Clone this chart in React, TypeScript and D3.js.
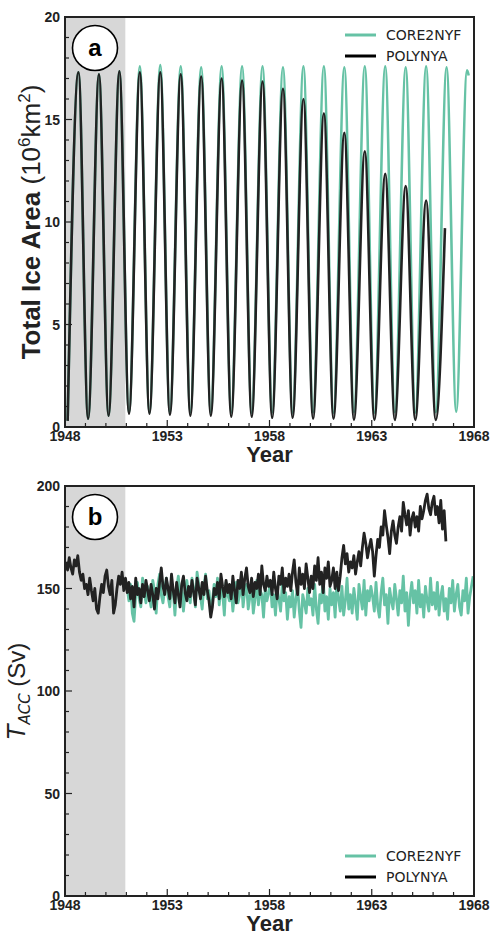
import React from "react";
import * as d3 from "d3";

// ---------- Panel a: total sea-ice area (10^6 km^2), seasonal extrema ----------
const iceYears = [1948, 1949, 1950, 1951, 1952, 1953, 1954, 1955, 1956, 1957, 1958, 1959, 1960, 1961, 1962, 1963, 1964, 1965, 1966, 1967];
const PEAK_PHASE = 0.66; // September maximum
const TROUGH_PHASE = 0.13; // February minimum
const corePeaks = [17.3, 17.2, 17.35, 17.6, 17.65, 17.6, 17.55, 17.6, 17.6, 17.6, 17.55, 17.6, 17.6, 17.55, 17.6, 17.6, 17.55, 17.6, 17.55, 17.4];
const coreTroughs = [0.3, 0.4, 0.55, 0.7, 0.7, 0.7, 0.72, 0.7, 0.72, 0.7, 0.72, 0.7, 0.72, 0.7, 0.72, 0.7, 0.72, 0.7, 0.72, 0.75];
const coreEnd = { t: 1967.74, v: 17.15 };
const polyPeaks = [17.3, 17.2, 17.35, 17.3, 17.3, 17.2, 17.1, 17.0, 16.9, 16.85, 16.5, 16.0, 15.3, 14.35, 13.45, 12.35, 11.75, 11.05];
const polyTroughs = [0.3, 0.4, 0.55, 0.65, 0.65, 0.6, 0.55, 0.55, 0.5, 0.5, 0.45, 0.45, 0.4, 0.4, 0.35, 0.35, 0.35, 0.35, 0.35];
const polyEnd = { t: 1966.58, v: 9.7 };

// ---------- Panel b: ACC transport (Sv), monthly ----------
const accPolyStart = 1948;
const accPolynya = [
  163, 159, 165, 160, 157, 164, 161, 166, 158, 154, 157, 150,
  152, 147, 155, 149, 144, 150, 140, 138, 146, 152, 148, 156,
  159, 151, 147, 154, 138, 142, 150, 156, 152, 158, 149, 155,
  148, 153, 145, 151, 141, 155, 147, 150, 143, 152, 146, 154,
  149, 144, 152, 147, 140, 150, 145, 153, 160, 151, 147, 155,
  150, 145, 157, 149, 143, 153, 147, 141, 152, 156, 148, 144,
  151, 146, 154, 148, 142, 155, 150, 145, 153, 147, 156, 149,
  144, 136, 141, 150, 147, 153, 145, 157, 151, 146, 154, 148,
  152, 145, 156, 149, 143, 154, 150, 158, 147, 155, 160, 151,
  148, 155, 146, 153, 150, 157, 147, 161, 152, 149, 156, 151,
  154, 147, 158, 150, 145, 156, 152, 160, 148, 155, 151, 157,
  149, 158, 164, 153, 147, 160, 152, 157, 150, 162, 155, 148,
  156, 150, 161, 154, 165, 152, 158, 148, 160, 155, 163, 151,
  154, 160, 150, 158, 149, 156, 165, 171, 162, 167, 158, 163,
  160, 166, 157, 163, 168, 161, 170, 177, 172, 165, 170, 174,
  168, 156, 166, 174, 170, 180, 176, 188, 181, 175, 167, 178,
  183, 176, 172, 180, 185, 178, 192, 186, 181, 188, 176, 184,
  187, 180, 185, 178, 190, 184, 188, 193, 196, 189, 186, 192,
  195, 186, 190, 182, 193, 179, 188, 173,
];
const accCoreStart = 1951;
const accCore = [
  150, 144, 152, 138, 134, 147, 153, 145, 141, 155, 148, 143,
  151, 146, 141, 154, 149, 138, 152, 157, 147, 143, 150, 155,
  146, 141, 153, 149, 137, 150, 156, 145, 151, 139, 148, 154,
  147, 143, 155, 150, 141, 158, 152, 146, 140, 151, 157, 145,
  149, 139, 144, 152, 146, 155, 142, 150, 148, 137, 153, 147,
  144, 150, 139, 148, 153, 143, 147, 155, 141, 149, 152, 140,
  146, 151, 138, 145, 154, 142, 149, 147, 136, 150, 144, 148,
  153, 141, 147, 137, 150, 145, 139, 152, 144, 148, 135, 146,
  141, 149, 136, 145, 151, 139, 131, 147, 143, 138, 150, 142,
  145, 137, 152, 140, 133, 147, 143, 156, 139, 146, 135, 150,
  142, 148, 136, 153, 145, 139, 151, 137, 144, 155, 140, 147,
  138, 150, 143, 135, 152, 146, 140, 154, 137, 149, 144, 151,
  146, 139, 153, 141, 136, 148, 155, 142, 147, 133, 150, 144,
  140, 152, 145, 137, 149, 143, 156, 139, 148, 132, 146, 153,
  143, 149, 138, 154, 141, 147, 136, 151, 144, 139, 155, 142,
  148, 140, 153, 137, 146, 151, 139, 145, 135, 150, 143, 154,
  139, 147, 152, 141, 137, 149, 144, 155, 138, 146, 151, 156,
];

const xMajor = [1948, 1953, 1958, 1963, 1968];
const aMajor = [0, 5, 10, 15, 20];
const bMajor = [0, 50, 100, 150, 200];
const spinupEnd = 1950.95;
const seriesNames = ["CORE2NYF", "POLYNYA"];

const GREEN = "#66c2a5";
const BLACK = "#222222";

type P = { t: number; v: number };

function extremaSeries(peaks: number[], troughs: number[], end: P): P[] {
  const pts: P[] = [];
  troughs.forEach((tv, i) => {
    pts.push({ t: iceYears[i] + TROUGH_PHASE, v: tv });
    if (i < peaks.length) pts.push({ t: iceYears[i] + PEAK_PHASE, v: peaks[i] });
  });
  pts.push(end);
  return pts;
}
function monthly(start: number, vals: number[]): P[] {
  return vals.map((v, i) => ({ t: start + (i + 0.5) / 12, v }));
}

const L = 65, R = 474;
const x = d3.scaleLinear().domain([1948, 1968]).range([L, R]);

function Panel({ top, bottom, yMax, yMajor, yMinorStep, children, letter, legendY }: any) {
  const y = d3.scaleLinear().domain([0, yMax]).range([bottom, top]);
  const xMinor = d3.range(1948, 1969, 1).filter((v) => !xMajor.includes(v));
  const yMinor = d3.range(0, yMax + 0.001, yMinorStep).filter((v) => !yMajor.some((m: number) => Math.abs(m - v) < 1e-6));
  const tickFont = { fontFamily: "Liberation Sans, Arial, sans-serif", fontWeight: 700, fontSize: 14, fill: BLACK };
  return (
    <g>
      <rect x={x(1948)} y={top} width={x(spinupEnd) - x(1948)} height={bottom - top} fill="#d7d7d7" />
      {children(y)}
      {xMajor.map((v) => (
        <line key={"xM" + v} x1={x(v)} x2={x(v)} y1={bottom} y2={bottom - 7} stroke={BLACK} strokeWidth={1.2} />
      ))}
      {xMinor.map((v) => (
        <line key={"xm" + v} x1={x(v)} x2={x(v)} y1={bottom} y2={bottom - 4} stroke={BLACK} strokeWidth={1.2} />
      ))}
      {yMajor.map((v: number) => (
        <line key={"yM" + v} x1={L} x2={L + 7} y1={y(v)} y2={y(v)} stroke={BLACK} strokeWidth={1.2} />
      ))}
      {yMinor.map((v: number) => (
        <line key={"ym" + v} x1={L} x2={L + 4} y1={y(v)} y2={y(v)} stroke={BLACK} strokeWidth={1.2} />
      ))}
      <rect x={L} y={top} width={R - L} height={bottom - top} fill="none" stroke={BLACK} strokeWidth={2} />
      {xMajor.map((v) => (
        <text key={"xl" + v} x={x(v)} y={bottom + 14} textAnchor="middle" style={tickFont}>{v}</text>
      ))}
      {yMajor.map((v: number) => (
        <text key={"yl" + v} x={L - 5} y={y(v) + 5} textAnchor="end" style={tickFont}>{v}</text>
      ))}
      <text x={(L + R) / 2} y={bottom + 35} textAnchor="middle"
        style={{ fontFamily: "Liberation Sans, Arial, sans-serif", fontWeight: 700, fontSize: 22, fill: BLACK }}>Year</text>
      <circle cx={95} cy={top + 31} r={22.5} fill="white" stroke="black" strokeWidth={1.6} />
      <text x={95} y={top + 39} textAnchor="middle"
        style={{ fontFamily: "Liberation Sans, Arial, sans-serif", fontWeight: 700, fontSize: 24, fill: "black" }}>{letter}</text>
      {seriesNames.map((n, i) => (
        <g key={n}>
          <line x1={345} x2={376} y1={legendY + i * 21} y2={legendY + i * 21} stroke={i === 0 ? GREEN : "black"} strokeWidth={3} />
          <text x={386} y={legendY + i * 21 + 5} style={{ fontFamily: "DejaVu Sans, sans-serif", fontSize: 14, fill: BLACK }}>{n}</text>
        </g>
      ))}
    </g>
  );
}

export default function App() {
  const coreIce = extremaSeries(corePeaks, coreTroughs, coreEnd);
  const polyIce = extremaSeries(polyPeaks, polyTroughs, polyEnd);
  const coreAcc = monthly(accCoreStart, accCore);
  const polyAcc = monthly(accPolyStart, accPolynya);

  return (
    <svg width={490} height={936} style={{ position: "absolute", left: 0, top: 0, background: "white" }}>
      <Panel top={17} bottom={427} yMax={20} yMajor={aMajor} yMinorStep={1} letter="a" legendY={35}>
        {(y: any) => {
          const line = d3.line<P>().x((d) => x(d.t)).y((d) => y(d.v)).curve(d3.curveMonotoneX);
          return (
            <g>
              <path d={line(coreIce) || ""} fill="none" stroke={GREEN} strokeWidth={2.6} />
              <path d={line(polyIce) || ""} fill="none" stroke={BLACK} strokeWidth={2.6} />
            </g>
          );
        }}
      </Panel>
      <Panel top={486} bottom={896} yMax={200} yMajor={bMajor} yMinorStep={10} letter="b" legendY={856}>
        {(y: any) => {
          const line = d3.line<P>().x((d) => x(d.t)).y((d) => y(d.v)).curve(d3.curveLinear);
          return (
            <g>
              <path d={line(coreAcc) || ""} fill="none" stroke={GREEN} strokeWidth={2.8} strokeLinejoin="round" />
              <path d={line(polyAcc) || ""} fill="none" stroke={BLACK} strokeWidth={2.8} strokeLinejoin="round" />
            </g>
          );
        }}
      </Panel>
      <text transform="translate(40,222) rotate(-90)" textAnchor="middle"
        style={{ fontFamily: "Liberation Sans, Arial, sans-serif", fontSize: 26, fill: BLACK }}>
        <tspan fontWeight={700}>Total Ice Area </tspan>
        <tspan>(10</tspan>
        <tspan fontSize={17} dy={-10}>6</tspan>
        <tspan dy={10}>km</tspan>
        <tspan fontSize={17} dy={-10}>2</tspan>
        <tspan dy={10}>)</tspan>
      </text>
      <text transform="translate(25,691) rotate(-90)" textAnchor="middle"
        style={{ fontFamily: "Liberation Sans, Arial, sans-serif", fontSize: 24, fill: BLACK }}>
        <tspan fontStyle="italic" fontFamily="DejaVu Sans, sans-serif">T</tspan>
        <tspan fontStyle="italic" fontFamily="DejaVu Sans, sans-serif" fontSize={15} dy={5}>ACC</tspan>
        <tspan dy={-5}> (Sv)</tspan>
      </text>
    </svg>
  );
}
